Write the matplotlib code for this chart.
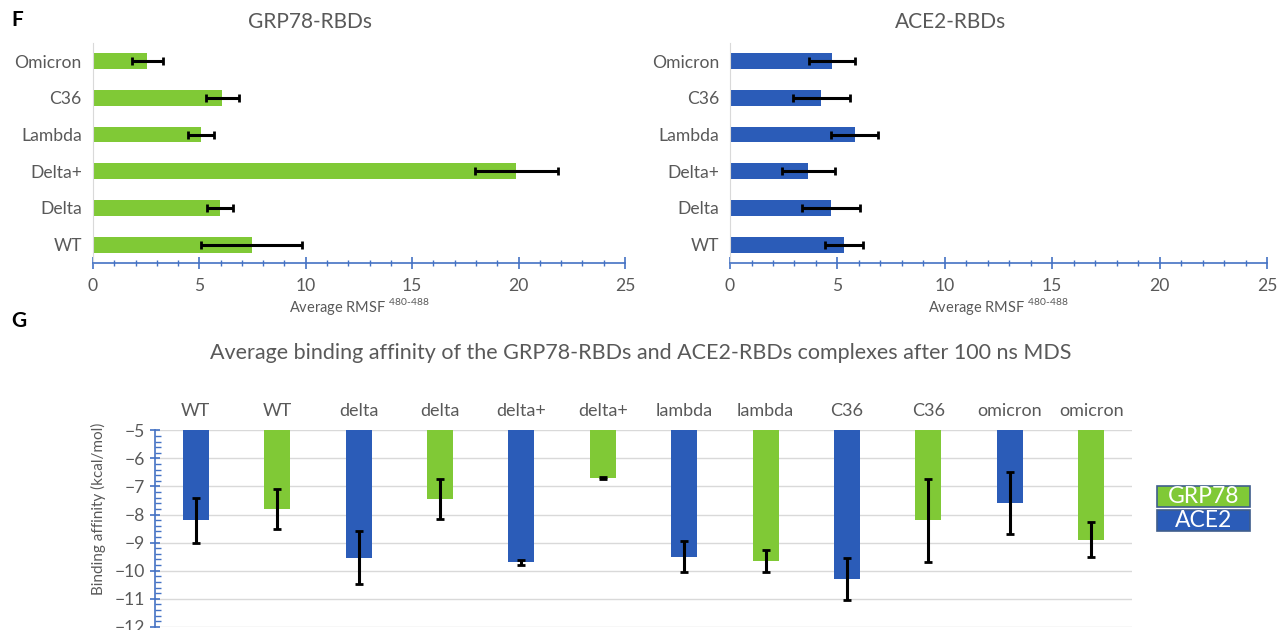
import matplotlib.pyplot as plt
import numpy as np
from matplotlib.patches import Rectangle

plt.rcParams["font.family"] = ["Lato", "DejaVu Sans"]
plt.rcParams["mathtext.fontset"] = "custom"
plt.rcParams["mathtext.rm"] = "Lato"

GREEN = "#80C936"
BLUE = "#2B5CB8"
AXBLUE = "#4472C4"
TEXT = "#595959"

# panel F data (Average RMSF 480-488)
variants = ["WT", "Delta", "Delta+", "Lambda", "C36", "Omicron"]
grp78_rmsf = [7.45, 5.97, 19.9, 5.07, 6.07, 2.55]
grp78_err = [2.37, 0.59, 1.93, 0.62, 0.77, 0.73]
ace2_rmsf = [5.31, 4.68, 3.65, 5.81, 4.24, 4.76]
ace2_err = [0.87, 1.35, 1.25, 1.1, 1.33, 1.07]

# panel G data (binding affinity, kcal/mol)
complex_labels = ["WT", "WT", "delta", "delta", "delta+", "delta+",
                  "lambda", "lambda", "C36", "C36", "omicron", "omicron"]
complex_kind = ["ACE2", "GRP78"] * 6
affinity = [-8.2, -7.8, -9.54, -7.46, -9.70, -6.70,
            -9.50, -9.65, -10.31, -8.21, -7.59, -8.89]
affinity_err = [0.8, 0.71, 0.94, 0.71, 0.08, 0.02,
                0.55, 0.4, 0.75, 1.48, 1.1, 0.63]

fig = plt.figure(figsize=(12.77, 6.3), dpi=100)
fig.patch.set_facecolor("white")


def rmsf_panel(rect, vals, errs, color):
    ax = fig.add_axes(rect)
    y = np.arange(len(variants))
    ax.barh(y, vals, height=0.43, color=color, zorder=2)
    ax.errorbar(vals, y, xerr=errs, fmt="none", ecolor="black", elinewidth=2.2,
                capsize=3, capthick=2, zorder=3)
    ax.set_yticks(y)
    ax.set_yticklabels(variants, fontsize=12.6, color=TEXT)
    ax.tick_params(axis="y", length=0, pad=8)
    ax.set_ylim(-0.5, len(variants) - 0.5)
    ax.set_xlim(0, 25)
    ax.set_xticks(np.arange(0, 26, 5))
    ax.set_xticks(np.arange(0, 26, 1), minor=True)
    ax.tick_params(axis="x", which="major", direction="inout", length=9, width=1.2,
                   color=AXBLUE, labelsize=12.6, labelcolor=TEXT, pad=6)
    ax.tick_params(axis="x", which="minor", direction="inout", length=5, width=1,
                   color=AXBLUE)
    for s in ["top", "right"]:
        ax.spines[s].set_visible(False)
    ax.spines["bottom"].set_color(AXBLUE)
    ax.spines["bottom"].set_linewidth(1.2)
    ax.spines["left"].set_color("#D9D9D9")
    ax.set_xlabel(r"Average RMSF $^{\text{480-488}}$", fontsize=10.5, color=TEXT, labelpad=2)
    return ax


rmsf_panel([0.0728, 0.5825, 0.4166, 0.3495], grp78_rmsf, grp78_err, GREEN)
rmsf_panel([0.5717, 0.5825, 0.4205, 0.3495], ace2_rmsf, ace2_err, BLUE)
fig.text(0.243, 0.965, "GRP78-RBDs", ha="center", va="center", fontsize=15, color=TEXT)
fig.text(0.744, 0.965, "ACE2-RBDs", ha="center", va="center", fontsize=15, color=TEXT)

# panel G
ax = fig.add_axes([0.1214, 0.005, 0.765, 0.312])
x = np.arange(len(complex_labels))
colors = [BLUE if k == "ACE2" else GREEN for k in complex_kind]
base = -5
ax.bar(x, np.array(affinity) - base, bottom=base, width=0.32, color=colors, zorder=2)
ax.errorbar(x, affinity, yerr=affinity_err, fmt="none", ecolor="black", elinewidth=2.2,
            capsize=3, capthick=2, zorder=3)
ax.set_xlim(-0.5, len(complex_labels) - 0.5)
ax.set_ylim(-12, -5)
ax.set_yticks(np.arange(-12, -4, 1))
ax.set_yticks(np.arange(-12, -4.9, 0.2), minor=True)
ax.tick_params(axis="y", which="major", direction="inout", length=7, width=1.2,
               color=AXBLUE, labelsize=12.6, labelcolor=TEXT)
ax.tick_params(axis="y", which="minor", direction="in", length=4, width=1, color=AXBLUE)
ax.xaxis.tick_top()
ax.set_xticks(x)
ax.set_xticklabels(complex_labels, fontsize=13, color=TEXT)
ax.tick_params(axis="x", length=0, pad=8)
ax.grid(True, axis="y", color="#D9D9D9", linewidth=1, zorder=0)
for s in ["top", "right", "bottom"]:
    ax.spines[s].set_visible(False)
ax.spines["left"].set_color(AXBLUE)
ax.spines["left"].set_linewidth(1.2)
ax.set_ylabel("Binding affinity (kcal/mol)", fontsize=11, color=TEXT)
ax.yaxis.set_label_coords(-0.05, 0.6)

fig.text(0.502, 0.44, "Average binding affinity of the GRP78-RBDs and ACE2-RBDs complexes after 100 ns MDS",
         ha="center", va="center", fontsize=15.5, color=TEXT)

# legend boxes
for label, color, ytop in [("GRP78", GREEN, 486), ("ACE2", BLUE, 510)]:
    x0, w, h = 1157 / 1277, 93 / 1277, 21 / 630
    y0 = 1 - (ytop + 21) / 630
    fig.patches.append(Rectangle((x0, y0), w, h, transform=fig.transFigure,
                                 facecolor=color, edgecolor="#3F5E8C", linewidth=1.2))
    fig.text(x0 + w / 2, y0 + h / 2, label, ha="center", va="center",
             fontsize=16.5, color="white")

fig.text(0.009, 0.968, "F", fontsize=15, fontweight="bold", color="black", va="center")
fig.text(0.009, 0.49, "G", fontsize=15, fontweight="bold", color="black", va="center")

fig.savefig("out.png", dpi=100, facecolor="white")
